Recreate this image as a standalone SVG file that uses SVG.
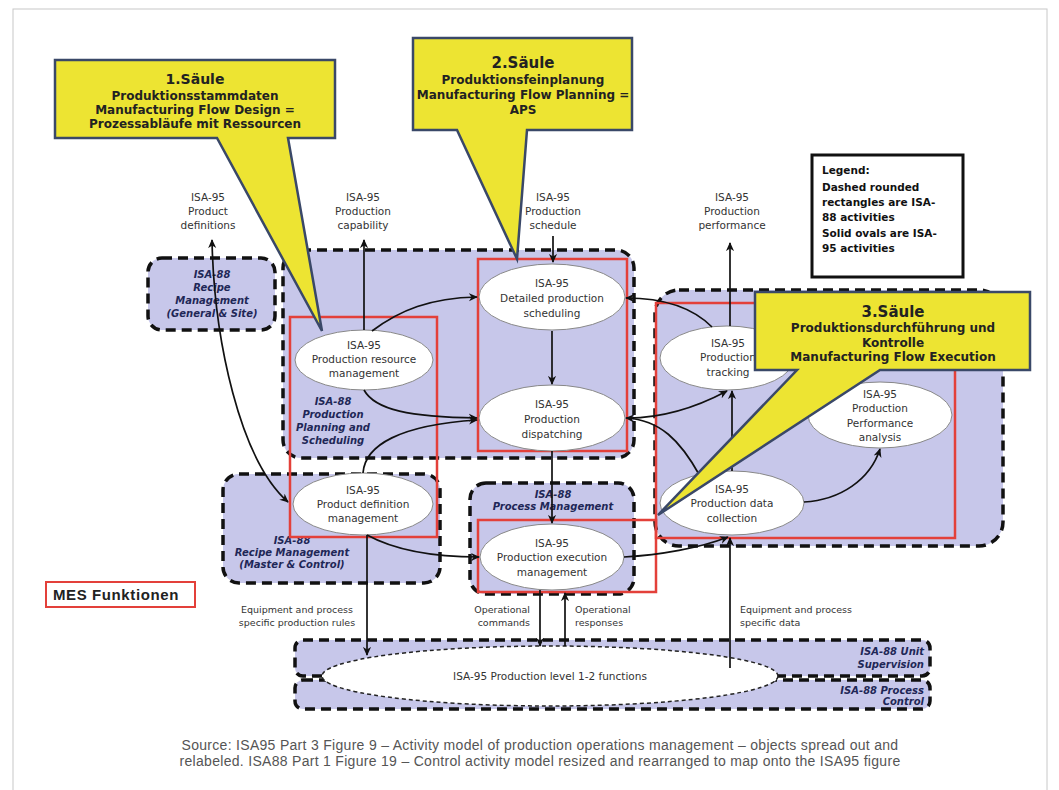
<svg xmlns="http://www.w3.org/2000/svg" width="1059" height="790" viewBox="0 0 1059 790">
<defs>
<marker id="ah" viewBox="0 0 10 10" refX="9" refY="5" markerWidth="9" markerHeight="9" markerUnits="userSpaceOnUse" orient="auto-start-reverse"><path d="M0,0.5 L10,5 L0,9.5 L3,5 z" fill="#111"/></marker>
</defs>
<style>
.box{fill:#c7c7ea;stroke:#111;stroke-width:3.5;stroke-dasharray:10 6}
.red{fill:none;stroke:#e3403a;stroke-width:2.5}
.ell{fill:#fff;stroke:#888;stroke-width:1}
.nt{font-family:"DejaVu Sans",Verdana,sans-serif;font-size:10.5px;fill:#333;text-anchor:middle}
.lt{font-family:"DejaVu Sans",Verdana,sans-serif;font-size:9.5px;fill:#333}
.bl{font-family:"DejaVu Sans",sans-serif;font-size:10px;font-weight:bold;font-style:italic;fill:#1f2757;text-anchor:middle}
.be{text-anchor:end}
.c{fill:none;stroke:#111;stroke-width:1.7}
.co{fill:#ede432;stroke:#3a4868;stroke-width:2.5}
.ct{font-family:"DejaVu Sans",sans-serif;font-weight:bold;font-size:12px;fill:#222;text-anchor:middle}
.ch{font-size:14px}
.ch2{font-size:15px}
.lg{font-family:"DejaVu Sans",sans-serif;font-weight:bold;font-size:10.5px;fill:#111}
</style>
<rect x="13" y="9" width="1034" height="800" fill="none" stroke="#c8c8c8" stroke-width="1"/>

<g id="isa88-boxes">
<rect class="box" x="655" y="290" width="348" height="256" rx="24"/>
<rect class="box" x="283" y="250" width="351" height="208" rx="18"/>
<rect class="box" x="148" y="258" width="127" height="72" rx="14"/>
<rect class="box" x="223" y="474" width="217" height="109" rx="16"/>
<rect class="box" x="470" y="483" width="164" height="111" rx="16"/>
<rect class="box" x="295" y="640" width="635" height="36" rx="8"/>
<rect class="box" x="295" y="680" width="635" height="29" rx="8"/>
</g>
<g id="isa88-labels">
<text class="bl" x="212" y="278">ISA-88</text>
<text class="bl" x="212" y="291">Recipe</text>
<text class="bl" x="212" y="304">Management</text>
<text class="bl" x="212" y="317">(General &amp; Site)</text>
<text class="bl" x="333" y="405">ISA-88</text>
<text class="bl" x="333" y="418">Production</text>
<text class="bl" x="333" y="431">Planning and</text>
<text class="bl" x="333" y="444">Scheduling</text>
<text class="bl" x="292" y="544">ISA-88</text>
<text class="bl" x="292" y="556">Recipe Management</text>
<text class="bl" x="292" y="568">(Master &amp; Control)</text>
<text class="bl" x="553" y="498">ISA-88</text>
<text class="bl" x="553" y="510">Process Management</text>
<text class="bl be" x="924" y="655">ISA-88 Unit</text>
<text class="bl be" x="924" y="668">Supervision</text>
<text class="bl be" x="924" y="694">ISA-88 Process</text>
<text class="bl be" x="924" y="705">Control</text>
</g>

<g id="mes-red">
<rect class="red" x="290" y="317" width="147" height="220"/>
<rect class="red" x="478" y="259" width="149" height="192"/>
<rect class="red" x="478" y="520" width="178" height="72"/>
<rect class="red" x="656" y="303" width="299" height="235"/>
</g>

<g id="level12">
<ellipse cx="550" cy="676" rx="228" ry="30" fill="#fff" stroke="#222" stroke-width="1.5" stroke-dasharray="4 3"/>
<text class="nt" x="550" y="680">ISA-95 Production level 1-2 functions</text>
</g>

<g id="n-resource"><ellipse class="ell" cx="364" cy="360" rx="69" ry="30"/>
<text class="nt" x="364" y="349">ISA-95</text><text class="nt" x="364" y="363">Production resource</text><text class="nt" x="364" y="377">management</text></g>
<g id="n-scheduling"><ellipse class="ell" cx="552" cy="297" rx="73" ry="33"/>
<text class="nt" x="552" y="287">ISA-95</text><text class="nt" x="552" y="302">Detailed production</text><text class="nt" x="552" y="317">scheduling</text></g>
<g id="n-dispatching"><ellipse class="ell" cx="552" cy="418" rx="73" ry="33"/>
<text class="nt" x="552" y="408">ISA-95</text><text class="nt" x="552" y="423">Production</text><text class="nt" x="552" y="438">dispatching</text></g>
<g id="n-productdef"><ellipse class="ell" cx="363" cy="504" rx="70" ry="31"/>
<text class="nt" x="363" y="494">ISA-95</text><text class="nt" x="363" y="508">Product definition</text><text class="nt" x="363" y="522">management</text></g>
<g id="n-execution"><ellipse class="ell" cx="552" cy="557" rx="72" ry="33"/>
<text class="nt" x="552" y="547">ISA-95</text><text class="nt" x="552" y="561">Production execution</text><text class="nt" x="552" y="576">management</text></g>
<g id="n-tracking"><ellipse class="ell" cx="727" cy="358" rx="67" ry="32"/>
<text class="nt" x="728" y="347">ISA-95</text><text class="nt" x="728" y="361">Production</text><text class="nt" x="728" y="376">tracking</text></g>
<g id="n-performance"><ellipse class="ell" cx="880" cy="415" rx="72" ry="33"/>
<text class="nt" x="880" y="398">ISA-95</text><text class="nt" x="880" y="412">Production</text><text class="nt" x="880" y="427">Performance</text><text class="nt" x="880" y="441">analysis</text></g>
<g id="n-datacollection"><ellipse class="ell" cx="732" cy="503" rx="72" ry="32"/>
<text class="nt" x="732" y="493">ISA-95</text><text class="nt" x="732" y="507">Production data</text><text class="nt" x="732" y="522">collection</text></g>

<g id="top-labels">
<text class="nt" x="208" y="201">ISA-95</text><text class="nt" x="208" y="215">Product</text><text class="nt" x="208" y="229">definitions</text>
<text class="nt" x="363" y="201">ISA-95</text><text class="nt" x="363" y="215">Production</text><text class="nt" x="363" y="229">capability</text>
<text class="nt" x="553" y="201">ISA-95</text><text class="nt" x="553" y="215">Production</text><text class="nt" x="553" y="229">schedule</text>
<text class="nt" x="732" y="201">ISA-95</text><text class="nt" x="732" y="215">Production</text><text class="nt" x="732" y="229">performance</text>
</g>

<g id="bottom-labels">
<text class="lt" x="297" y="613" text-anchor="middle">Equipment and process</text>
<text class="lt" x="297" y="626" text-anchor="middle">specific production rules</text>
<text class="lt" x="530" y="613" text-anchor="end">Operational</text>
<text class="lt" x="530" y="626" text-anchor="end">commands</text>
<text class="lt" x="575" y="613">Operational</text>
<text class="lt" x="575" y="626">responses</text>
<text class="lt" x="740" y="613">Equipment and process</text>
<text class="lt" x="740" y="626">specific data</text>
</g>

<g id="connectors">
<path class="c" d="M212,240 C214,340 240,460 288,502" marker-start="url(#ah)" marker-end="url(#ah)"/>
<path class="c" d="M364,330 L364,240" marker-end="url(#ah)"/>
<path class="c" d="M372,331 C400,310 430,298 477,297" marker-end="url(#ah)"/>
<path class="c" d="M364,390 C375,410 410,417 477,418" marker-end="url(#ah)"/>
<path class="c" d="M363,473 C365,445 400,425 477,420" marker-end="url(#ah)"/>
<path class="c" d="M553,236 L553,262" marker-end="url(#ah)"/>
<path class="c" d="M552,331 L552,384" marker-end="url(#ah)"/>
<path class="c" d="M552,451 L552,523" marker-end="url(#ah)"/>
<path class="c" d="M712,327 C690,305 660,298 626,298" marker-end="url(#ah)"/>
<path class="c" d="M700,476 C680,440 660,420 626,418" marker-end="url(#ah)"/>
<path class="c" d="M628,418 C660,418 695,408 727,391" marker-end="url(#ah)"/>
<path class="c" d="M732,471 L732,391" marker-end="url(#ah)"/>
<path class="c" d="M730,326 L730,243" marker-end="url(#ah)"/>
<path class="c" d="M804,502 C840,500 870,480 880,449" marker-end="url(#ah)"/>
<path class="c" d="M367,535 C400,553 440,557 479,557" marker-end="url(#ah)"/>
<path class="c" d="M367,535 L367,655" marker-end="url(#ah)"/>
<path class="c" d="M540,590 L540,646" marker-end="url(#ah)"/>
<path class="c" d="M565,646 L565,593" marker-end="url(#ah)"/>
<path class="c" d="M624,557 C660,555 700,548 728,537" marker-end="url(#ah)"/>
<path class="c" d="M730,668 L730,538" marker-end="url(#ah)"/>
</g>

<g id="legend">
<rect x="812" y="155" width="151" height="122" fill="#fff" stroke="#111" stroke-width="3"/>
<text class="lg" x="822" y="174">Legend:</text>
<text class="lg" x="822" y="191">Dashed rounded</text>
<text class="lg" x="822" y="206">rectangles are ISA-</text>
<text class="lg" x="822" y="221">88 activities</text>
<text class="lg" x="822" y="237">Solid ovals are ISA-</text>
<text class="lg" x="822" y="252">95 activities</text>
</g>

<g id="callout-1">
<path class="co" d="M55,60 H335 V138 H288 L322,331 L217,138 H55 Z"/>
<text class="ct ch" x="195" y="84">1.Säule</text>
<text class="ct" x="195" y="100">Produktionsstammdaten</text>
<text class="ct" x="195" y="114">Manufacturing Flow Design =</text>
<text class="ct" x="195" y="128">Prozessabläufe mit Ressourcen</text>
</g>
<g id="callout-2">
<path class="co" d="M413,38 H632 V130 H527 L517,259 L457,130 H413 Z"/>
<text class="ct ch2" x="523" y="68">2.Säule</text>
<text class="ct" x="523" y="84">Produktionsfeinplanung</text>
<text class="ct" x="523" y="99">Manufacturing Flow Planning =</text>
<text class="ct" x="523" y="114">APS</text>
</g>
<g id="callout-3">
<path class="co" d="M755,292 H1030 V370 H880 L658,515 L797,370 H755 Z"/>
<text class="ct ch2" x="893" y="317">3.Säule</text>
<text class="ct" x="893" y="332">Produktionsdurchführung und</text>
<text class="ct" x="893" y="347">Kontrolle</text>
<text class="ct" x="893" y="361">Manufacturing Flow Execution</text>
</g>

<g id="mes-label">
<rect x="46" y="582" width="149" height="25" fill="#fff" stroke="#e3403a" stroke-width="2"/>
<text x="53" y="600" font-family="'Liberation Sans',Arial,sans-serif" font-weight="bold" font-size="15" letter-spacing="0.6" fill="#222">MES Funktionen</text>
</g>

<g id="caption" font-family="'Liberation Sans',Arial,sans-serif" font-size="14" letter-spacing="0.3" fill="#555" text-anchor="middle">
<text x="540" y="750">Source: ISA95 Part 3 Figure 9 – Activity model of production operations management – objects spread out and</text>
<text x="540" y="766">relabeled. ISA88 Part 1 Figure 19 – Control activity model resized and rearranged to map onto the ISA95 figure</text>
</g>
</svg>
